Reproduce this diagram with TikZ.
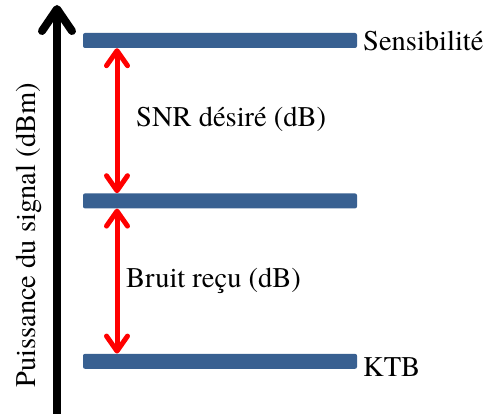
\documentclass[tikz,border=0pt]{standalone}
\usepackage{fontspec}
\setmainfont{texgyretermes-regular.otf}
\newfontfamily\levelfont{texgyretermes-regular.otf}
\usepackage{tikz}
\usetikzlibrary{positioning,arrows.meta}
\definecolor{barblue}{RGB}{56,96,145}

\begin{document}
\begin{tikzpicture}[x=1pt, y=-1pt, node distance=145pt,
    bar/.style={rectangle, fill=barblue, rounded corners=2pt, minimum width=274pt, minimum height=15pt, inner sep=0pt},
    level/.style={font=\levelfont\fontsize{28.5}{34}\selectfont, inner sep=0pt},
    gap/.style={red, line width=5pt, {Straight Barb[round,length=15pt,width=21pt]}-{Straight Barb[round,length=15pt,width=21pt]}},
    axis/.style={line width=8pt, -{Straight Barb[round,length=22pt,width=30pt]}}]
    \useasboundingbox (0,0) rectangle (487,414);

    % Niveaux
    \node [bar] (bartop) at (220,40.5) {};
    \node [bar, below=of bartop] (barmid) {};
    \node [bar, below=of barmid] (barbot) {};
    \node [level, anchor=base west] (sens) at (363,51) {Sensibilité};
    \node [level, anchor=base west] (ktb) at (363,376) {KTB};

    % Axe
    \coordinate (axisfoot) at (57,414);
    \coordinate (axistop) at (57,5);
    \draw [axis] (axisfoot) -- (axistop);
    \node [level, rotate=90, anchor=base west] (power) at (35,388) {Puissance du signal (dBm)};

    % Ecarts
    \coordinate (rail) at (117,0);
    \draw [gap] (rail |- bartop.south) -- (rail |- barmid.north);
    \draw [gap] (rail |- barmid.south) -- (rail |- barbot.north);
    \node [level, anchor=base west] (snr) at (136,127) {SNR désiré (dB)};
    \node [level, anchor=base west] (noise) at (126,287) {Bruit reçu (dB)};

\end{tikzpicture}
\end{document}
